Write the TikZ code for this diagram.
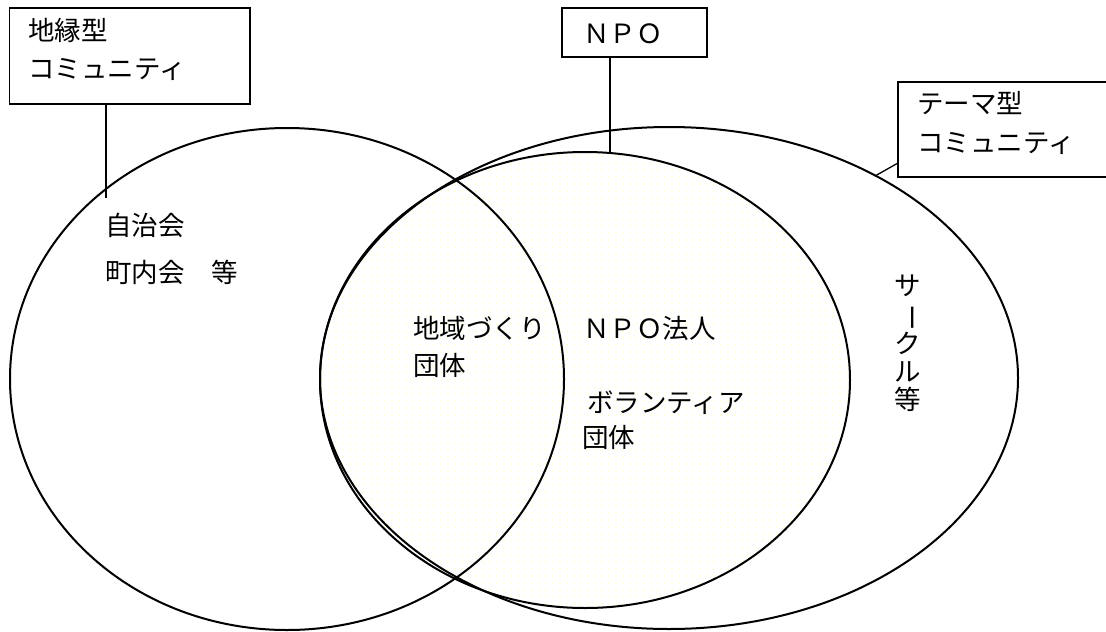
\documentclass[tikz,border=0pt]{standalone}
\usepackage{fontspec}
\setmainfont{Noto Sans CJK JP}
\usepackage{graphicx}
\usetikzlibrary{shapes.geometric,patterns.meta,calc}
\begin{document}
\begin{tikzpicture}[x=1pt,y=-1pt,
  ell/.style={draw, line width=2pt, ellipse, inner sep=0pt, outer sep=0pt},
  lbox/.style={draw, line width=1.3pt, rectangle, inner sep=0pt, outer sep=0pt, anchor=north west},
  conn/.style={line width=1.3pt},
  txt/.style={anchor=base west, inner sep=0pt, align=left, font=\fontsize{26.5}{38}\selectfont}]
\useasboundingbox (0,0) rectangle (1106,632);
% ellipses
\node[ell, pattern={Dots[radius=0.7pt, distance=7pt]}, pattern color=yellow!50,
      minimum width=530, minimum height=456] (npoE) at (585,380) {};
\node[ell, minimum width=554, minimum height=502] (chienE) at (287,379) {};
\node[ell, minimum width=698, minimum height=502] (themeE) at (669,378) {};
% boxes
\node[lbox, minimum width=240.5, minimum height=96] (chienBox) at (9.5,8) {};
\node[lbox, minimum width=145, minimum height=49] (npoBox) at (562,8) {};
\node[lbox, fill=white, minimum width=230, minimum height=95] (themeBox) at (898,82) {};
% connectors
\coordinate (chienEnd) at (106,198);
\coordinate (npoEnd) at (610,153);
\coordinate (themeEnd) at (875,176);
\draw[conn] ($(chienBox.south west)+(96.5,0)$) -- (chienEnd);
\draw[conn] ($(npoBox.south west)+(48,0)$) -- (npoEnd);
\draw[conn] ($(themeBox.south west)+(0,-14)$) -- (themeEnd);
% texts
\node[txt] (chienT) at (28,78) {地縁型\\コミュニティ};
\node[txt] (npoT) at (583,43) {ＮＰＯ};
\node[txt, font=\fontsize{26.5}{39}\selectfont] (themeT) at (917,152) {テーマ型\\コミュニティ};
\node[txt] (jichi) at (105,235) {自治会};
\node[txt] (chonai) at (105,282) {町内会　等};
\node[txt, font=\fontsize{26.5}{37}\selectfont] (chiiki) at (413,375) {地域づくり\\団体};
\node[txt] (npoHo) at (583,338) {ＮＰＯ法人};
\node[txt] (vol) at (587,412) {ボランティア};
\node[txt] (volDan) at (582,447) {団体};
\node[inner sep=0pt, align=center, font=\fontsize{26.5}{28}\selectfont] (circle) at (908,343)
  {サ\\\rotatebox[origin=c]{-90}{ー}\\ク\\ル\\等};
\end{tikzpicture}
\end{document}
